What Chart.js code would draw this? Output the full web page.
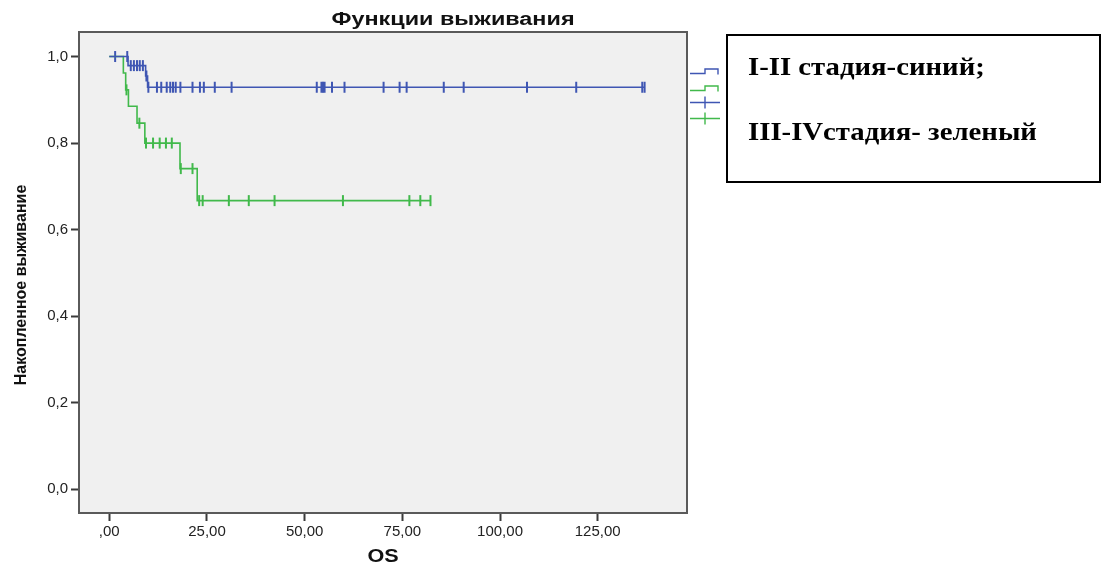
<!DOCTYPE html>
<html lang="ru">
<head>
<meta charset="utf-8">
<title>Функции выживания</title>
<script src="https://cdn.jsdelivr.net/npm/chart.js@4.4.1/dist/chart.umd.min.js"></script>
<style>
  html, body { margin: 0; padding: 0; background: #ffffff; }
  #wrap { width: 1104px; height: 568px; }
</style>
</head>
<body>
<div id="wrap"><canvas id="km" width="1104" height="568"></canvas></div>
<script>
// Kaplan–Meier overall survival (OS, months) by disease stage.
const timeTicks = [0, 25, 50, 75, 100, 125];
const survivalTicks = [0, 0.2, 0.4, 0.6, 0.8, 1.0];

// Stage I-II: event times and survival after each step
const stage12EventTimes = [0, 4.8, 9.3, 9.8];
const stage12Survival   = [1.0, 0.979, 0.955, 0.929];
const stage12Censored   = [1.5, 4.6, 5.5, 6.3, 7.1, 7.8, 8.6, 9.5, 10.0, 12.2, 13.3, 14.7,
                           15.6, 16.3, 17.0, 18.2, 21.3, 23.2, 24.2, 27.0, 31.3, 53.1, 54.3,
                           54.7, 55.1, 57.0, 60.2, 70.2, 74.3, 76.1, 85.6, 90.7, 106.9,
                           119.5, 136.4, 137.0];

// Stage III-IV
const stage34EventTimes = [0, 3.6, 4.2, 4.9, 7.1, 9.1, 18.1, 22.5];
const stage34Survival   = [1.0, 0.962, 0.923, 0.885, 0.846, 0.80, 0.741, 0.667];
const stage34Censored   = [4.4, 7.7, 9.4, 11.2, 12.9, 14.5, 16.0, 18.3, 21.3, 23.0, 23.9,
                           30.6, 35.7, 42.3, 59.8, 76.8, 79.6, 82.2];

const seriesLabels = ['I-II стадия', 'III-IV стадия'];
const BLUE = '#3f56b3';
const GREEN = '#41b94b';

// survival value of a step curve at time t
function survivalAt(times, surv, t) {
  let s = surv[0];
  for (let i = 0; i < times.length; i++) if (times[i] <= t) s = surv[i];
  return s;
}
function curvePoints(times, surv, censored) {
  const pts = times.map((t, i) => ({ x: t, y: surv[i] }));
  const last = censored[censored.length - 1];
  if (last > times[times.length - 1]) pts.push({ x: last, y: survivalAt(times, surv, last) });
  return pts;
}
function censorPoints(times, surv, censored) {
  return censored.map(t => ({ x: t, y: survivalAt(times, surv, t) }));
}

const SANS = "'Liberation Sans', Arial, sans-serif";
const SERIF = "'Liberation Serif', 'Times New Roman', serif";

// text drawn with a slight horizontal stretch
function wideText(ctx, text, x, y, font, align, sx) {
  ctx.save();
  ctx.font = font;
  ctx.textAlign = align;
  ctx.textBaseline = 'alphabetic';
  ctx.translate(x, y);
  ctx.scale(sx, 1);
  ctx.fillText(text, 0, 0);
  ctx.restore();
}

const decorations = {
  id: 'decorations',
  beforeDraw(chart) {
    const { ctx, chartArea: a } = chart;
    ctx.save();
    ctx.fillStyle = '#ffffff';
    ctx.fillRect(0, 0, chart.width, chart.height);
    ctx.fillStyle = '#f0f0f0';
    ctx.fillRect(a.left, a.top, a.right - a.left, a.bottom - a.top);
    ctx.restore();
  },
  afterDraw(chart) {
    const { ctx, chartArea: a } = chart;
    ctx.save();
    // plot frame
    ctx.strokeStyle = '#5a5a5a';
    ctx.lineWidth = 2;
    ctx.strokeRect(a.left, a.top, a.right - a.left, a.bottom - a.top);

    ctx.fillStyle = '#111111';
    // chart title
    wideText(ctx, 'Функции выживания', 453, 25, 'bold 18px ' + SANS, 'center', 1.3);
    // x axis title
    wideText(ctx, 'OS', (a.left + a.right) / 2, 562, 'bold 18px ' + SANS, 'center', 1.2);
    // y axis title
    ctx.save();
    ctx.translate(26, 285);
    ctx.rotate(-Math.PI / 2);
    ctx.font = 'bold 16px ' + SANS;
    ctx.textAlign = 'center';
    ctx.fillText('Накопленное выживание', 0, 0);
    ctx.restore();

    // legend symbols
    const lx = a.right + 3;
    ctx.lineWidth = 1.4;
    [[BLUE, 73.5], [GREEN, 90.5]].forEach(([c, y]) => {
      ctx.strokeStyle = c;
      ctx.beginPath();
      ctx.moveTo(lx, y); ctx.lineTo(lx + 15, y); ctx.lineTo(lx + 15, y - 4.5);
      ctx.lineTo(lx + 28, y - 4.5); ctx.lineTo(lx + 28, y + 1);
      ctx.stroke();
    });
    [[BLUE, 102.5], [GREEN, 118.5]].forEach(([c, y]) => {
      ctx.strokeStyle = c;
      ctx.beginPath();
      ctx.moveTo(lx, y); ctx.lineTo(lx + 30, y);
      ctx.moveTo(lx + 15, y - 6); ctx.lineTo(lx + 15, y + 6);
      ctx.stroke();
    });

    // stage colour note box
    ctx.fillStyle = '#ffffff';
    ctx.fillRect(727, 35, 373, 147);
    ctx.strokeStyle = '#000000';
    ctx.lineWidth = 2;
    ctx.strokeRect(727, 35, 373, 147);
    ctx.fillStyle = '#000000';
    wideText(ctx, 'I-II стадия-синий;', 748, 75, 'bold 25px ' + SERIF, 'left', 1.15);
    wideText(ctx, 'III-IVстадия- зеленый', 748, 140, 'bold 25px ' + SERIF, 'left', 1.15);
    ctx.restore();
  }
};

const tickGrid = {
  drawOnChartArea: false,
  drawTicks: true,
  tickLength: 8,
  tickWidth: 2,
  tickColor: '#3a3a3a'
};

new Chart(document.getElementById('km'), {
  type: 'scatter',
  data: {
    datasets: [
      {
        label: seriesLabels[0],
        data: curvePoints(stage12EventTimes, stage12Survival, stage12Censored),
        showLine: true, stepped: 'before',
        borderColor: BLUE, borderWidth: 1.6, pointRadius: 0
      },
      {
        label: seriesLabels[1],
        data: curvePoints(stage34EventTimes, stage34Survival, stage34Censored),
        showLine: true, stepped: 'before',
        borderColor: GREEN, borderWidth: 1.6, pointRadius: 0
      },
      {
        label: seriesLabels[0] + ' (цензурированные)',
        data: censorPoints(stage12EventTimes, stage12Survival, stage12Censored),
        showLine: false, pointStyle: 'line', rotation: 90,
        pointRadius: 5.5, borderColor: BLUE, backgroundColor: BLUE, borderWidth: 2
      },
      {
        label: seriesLabels[1] + ' (цензурированные)',
        data: censorPoints(stage34EventTimes, stage34Survival, stage34Censored),
        showLine: false, pointStyle: 'line', rotation: 90,
        pointRadius: 5.5, borderColor: GREEN, backgroundColor: GREEN, borderWidth: 2
      }
    ]
  },
  options: {
    responsive: false,
    devicePixelRatio: 1,
    animation: false,
    layout: { padding: { left: 0, top: 32, right: 417, bottom: 0 } },
    plugins: {
      legend: { display: false },
      title: { display: false },
      tooltip: { enabled: false }
    },
    scales: {
      x: {
        type: 'linear',
        min: -7.75, max: 147.85,
        grid: tickGrid,
        border: { display: false },
        afterBuildTicks(scale) { scale.ticks = timeTicks.map(v => ({ value: v })); },
        afterFit(scale) { scale.height = 55; },
        ticks: {
          padding: 2,
          color: '#222222',
          font: { family: SANS, size: 15 },
          callback: v => v === 0 ? ',00' : v.toFixed(2).replace('.', ',')
        }
      },
      y: {
        type: 'linear',
        min: -0.0549, max: 1.0567,
        grid: tickGrid,
        border: { display: false },
        afterBuildTicks(scale) { scale.ticks = survivalTicks.map(v => ({ value: v })); },
        afterFit(scale) { scale.width = 79; },
        ticks: {
          padding: 3,
          color: '#222222',
          font: { family: SANS, size: 15 },
          callback: v => v.toFixed(1).replace('.', ',')
        }
      }
    }
  },
  plugins: [decorations]
});
</script>
</body>
</html>
